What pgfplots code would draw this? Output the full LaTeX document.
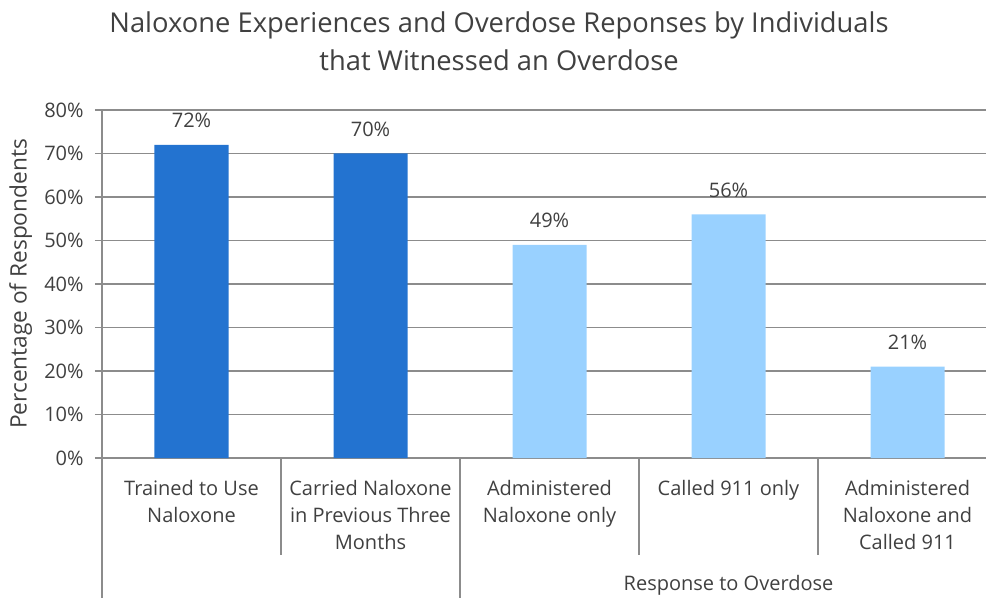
\documentclass[border=0pt]{standalone}
\usepackage{fontspec}
\setmainfont{Open Sans}
\usepackage{pgfplots}
\pgfplotsset{compat=1.18}
\definecolor{darkb}{HTML}{2373D0}
\definecolor{lightb}{HTML}{99D1FF}
\definecolor{gridc}{HTML}{8C8C8C}
\definecolor{txt}{HTML}{404040}
\begin{document}
\begin{tikzpicture}
\useasboundingbox (0,0) rectangle (739.5pt,-448.5pt);
\node[txt, font=\fontsize{20.5}{24}\selectfont, anchor=base] at (374.25pt,-24.75pt) {Naloxone Experiences and Overdose Reponses by Individuals};
\node[txt, font=\fontsize{20.5}{24}\selectfont, anchor=base] at (374.25pt,-53.25pt) {that Witnessed an Overdose};
\node[txt, font=\fontsize{17}{20}\selectfont, rotate=90] at (15.5pt,-213pt) {Percentage of Respondents};
\node[txt, font=\fontsize{15}{18}\selectfont, anchor=base] at (546.4pt,-442.5pt) {Response to Overdose};
\begin{axis}[
  at={(76.5pt,-343.5pt)}, anchor=south west,
  scale only axis, width=671.25pt, height=261pt,
  ymin=0, ymax=80, xmin=-0.5, xmax=4.5,
  ybar, bar width=55.5pt, bar shift=0pt,
  axis x line*=bottom, axis y line*=left,
  axis line style={gridc, line width=1pt, -},
  ytick={0,10,...,80},
  ymajorgrids, grid style={gridc, line width=1pt},
  tick align=outside, major tick length=5.25pt,
  ytick style={gridc, line width=1pt},
  xtick style={draw=none},
  yticklabel={\pgfmathprintnumber{\tick}\%},
  /pgf/number format/assume math mode=true,
  yticklabel style={txt, font=\fontsize{15}{18}\selectfont, xshift=-5pt},
  xtick={0,1,2,3,4},
  xticklabels={{Trained to Use\\Naloxone},{Carried Naloxone\\in Previous Three\\Months},{Administered\\Naloxone only},{Called 911 only},{Administered\\Naloxone and\\Called 911}},
  xticklabel style={txt, font=\fontsize{15}{20.25}\selectfont, align=center, anchor=north, yshift=-8pt},
  nodes near coords={\pgfmathprintnumber{\pgfplotspointmeta}\%},
  nodes near coords style={txt, font=\fontsize{15}{18}\selectfont, anchor=base, yshift=12.75pt},
  clip=false,
]
\addplot[fill=darkb, draw=none] coordinates {(0,72) (1,70)};
\addplot[fill=lightb, draw=none] coordinates {(2,49) (3,56) (4,21)};
\draw[gridc, line width=1pt] (axis cs:-0.5,0) -- ([yshift=-105pt]axis cs:-0.5,0);
\draw[gridc, line width=1pt] (axis cs:1.5,0) -- ([yshift=-105pt]axis cs:1.5,0);
\draw[gridc, line width=1pt] (axis cs:0.5,0) -- ([yshift=-72.75pt]axis cs:0.5,0);
\draw[gridc, line width=1pt] (axis cs:2.5,0) -- ([yshift=-72.75pt]axis cs:2.5,0);
\draw[gridc, line width=1pt] (axis cs:3.5,0) -- ([yshift=-72.75pt]axis cs:3.5,0);
\end{axis}
\end{tikzpicture}
\end{document}
